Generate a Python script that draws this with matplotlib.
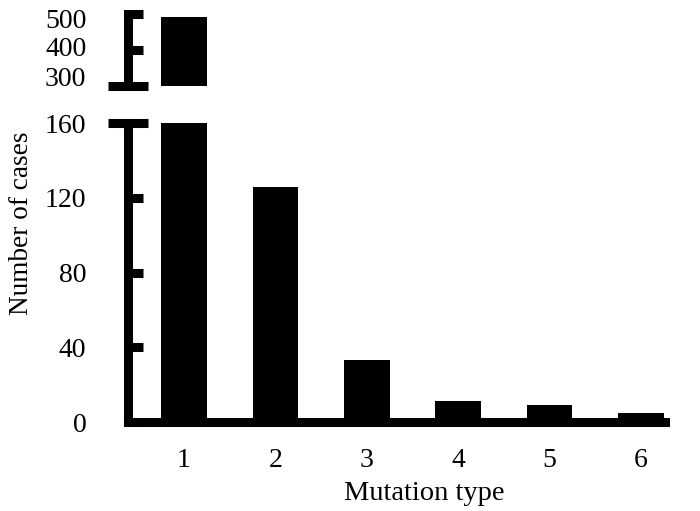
import matplotlib
matplotlib.use("Agg")
import matplotlib.pyplot as plt
import matplotlib.transforms as mtransforms

categories = [1, 2, 3, 4, 5, 6]
tick_labels = ["1", "2", "3", "4", "5", "6"]
cases = [492, 126, 33, 11, 9, 5]
low_ticks = [0, 40, 80, 120, 160]
high_ticks = [300, 400, 500]

plt.rcParams['font.family'] = ['Liberation Serif', 'DejaVu Serif']

W, H = 700, 511
fig = plt.figure(figsize=(7.0, 5.11), dpi=100)

left = 128 / W
width = (665 - 128) / W
ax_lo = fig.add_axes([left, (H - 422) / H, width, (422 - 123) / H])
ax_hi = fig.add_axes([left, (H - 86) / H, width, (86 - 14) / H])

xlim = (0.387, 6.263)
lw = 6.5
fs = 20

for ax in (ax_lo, ax_hi):
    ax.bar(categories, cases, width=0.50, color='black', zorder=2)
    ax.set_xlim(*xlim)
    for s in ('top', 'right'):
        ax.spines[s].set_visible(False)
    ax.spines['left'].set_linewidth(lw)
    ax.tick_params(axis='y', direction='in', length=11, width=lw, pad=30,
                   labelsize=fs)
    ax.patch.set_alpha(0)

ax_lo.set_ylim(0, 160)
ax_lo.set_yticks(low_ticks)
ax_lo.set_yticklabels([str(t) for t in low_ticks])
ax_lo.spines['bottom'].set_linewidth(lw)
ax_lo.set_xticks(categories)
ax_lo.set_xticklabels(tick_labels)
ax_lo.tick_params(axis='x', length=0, pad=19, labelsize=fs)

ax_hi.set_ylim(300, 500)
ax_hi.set_yticks(high_ticks)
ax_hi.set_yticklabels([str(t) for t in high_ticks])
ax_hi.spines['bottom'].set_visible(False)
ax_hi.set_xticks([])

# shift the compressed upper labels slightly, as in the reference
shifts_px = [10, 3, -4]
for lab, dy in zip(ax_hi.get_yticklabels(), shifts_px):
    off = mtransforms.ScaledTranslation(0, dy / 100, fig.dpi_scale_trans)
    lab.set_transform(lab.get_transform() + off)

# break marks
half = 20 / (665 - 128)
for ax, yv in ((ax_lo, 160), (ax_hi, 300)):
    tr = mtransforms.blended_transform_factory(ax.transAxes, ax.transData)
    ax.plot([-half, half], [yv, yv], transform=tr, color='black', lw=lw,
            solid_capstyle='butt', clip_on=False, zorder=5)

fig.text(424 / W, 1 - 494 / H, "Mutation type", ha='center', va='center',
         fontsize=20.5)
fig.text(22 / W, 1 - 223 / H, "Number of cases", ha='center', va='center',
         rotation=90, fontsize=19.6)

fig.savefig("out.png", dpi=100)
